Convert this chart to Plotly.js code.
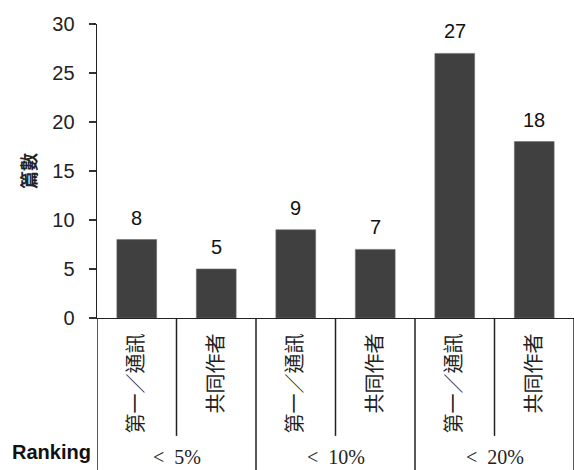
<!DOCTYPE html>
<html>
<head>
<meta charset="utf-8">
<script src="https://cdn.plot.ly/plotly-3.0.1.min.js"></script>
<style>
  html, body { margin: 0; padding: 0; background: #fff; }
  #chart { width: 574px; height: 470px; }
</style>
</head>
<body>
<div id="chart"></div>
<script>
// Paper counts by authorship role within each ranking band
const categories = ['第一／通訊', '共同作者', '第一／通訊', '共同作者', '第一／通訊', '共同作者'];
const groups = ['<\u00a0\u00a05%', '<\u00a0\u00a010%', '<\u00a0\u00a020%'];
const counts = [8, 5, 9, 7, 27, 18];
const yTicks = [0, 5, 10, 15, 20, 25, 30];

const pos = categories.map((_, i) => i);
const perGroup = categories.length / groups.length;

const barTrace = {
  type: 'bar',
  x: pos,
  y: counts,
  width: 0.5,
  marker: { color: '#404040', line: { color: '#6a6a6a', width: 0.6 } },
  hoverinfo: 'x+y',
  showlegend: false
};

// Value labels above each bar
const valueLabels = pos.map((x, i) => ({
  x: x, y: counts[i], xref: 'x', yref: 'y',
  text: String(counts[i]),
  showarrow: false, yanchor: 'bottom', yshift: 9,
  font: { family: 'Liberation Sans, Arial, sans-serif', size: 20, color: '#111' }
}));

// Ranking band labels under each pair of bars
const groupLabels = groups.map((g, k) => ({
  x: k * perGroup + (perGroup - 1) / 2, y: -0.474,
  xref: 'x', yref: 'paper',
  text: g, showarrow: false, yanchor: 'middle',
  font: { family: 'Liberation Serif, DejaVu Serif, serif', size: 20, color: '#222' }
}));

const rankingLabel = {
  x: -0.182, y: -0.456, xref: 'paper', yref: 'paper',
  xanchor: 'left', yanchor: 'middle', showarrow: false,
  text: '<b>Ranking</b>',
  font: { family: 'Liberation Sans, Arial, sans-serif', size: 20, color: '#111' }
};

// Separators below the axis: short between roles, long between bands
const shapes = [];
for (let b = 0; b <= categories.length; b++) {
  const xb = b - 0.5;
  const isBand = b % perGroup === 0;
  shapes.push({
    type: 'line', xref: 'x', yref: 'paper',
    x0: xb, x1: xb, y0: 0, y1: isBand ? -0.53 : -0.401,
    line: { color: '#222', width: 1.5 }
  });
}

const layout = {
  width: 574, height: 470,
  margin: { l: 97, r: 0, t: 24, b: 152 },
  paper_bgcolor: '#ffffff', plot_bgcolor: '#ffffff',
  bargap: 0.5,
  xaxis: {
    range: [-0.5, categories.length - 0.5],
    tickvals: pos, ticktext: categories,
    tickangle: -90,
    ticks: '', showgrid: false, zeroline: false,
    showline: true, linecolor: '#222', linewidth: 1.4,
    ticklabelstandoff: 6,
    tickfont: { family: 'Noto Sans CJK TC, sans-serif', size: 20, color: '#222' }
  },
  yaxis: {
    range: [0, 30],
    tickvals: yTicks,
    ticks: 'outside', ticklen: 7, tickwidth: 1.3, tickcolor: '#333',
    showgrid: false, zeroline: false,
    showline: true, linecolor: '#222', linewidth: 1.4,
    ticklabelstandoff: 10,
    tickfont: { family: 'Liberation Sans, Arial, sans-serif', size: 20, color: '#222' },
    title: {
      text: '<b>篇數</b>', standoff: 11,
      font: { family: 'Noto Sans CJK TC, sans-serif', size: 18, color: '#222' }
    }
  },
  shapes: shapes,
  annotations: valueLabels.concat(groupLabels, [rankingLabel])
};

Plotly.newPlot('chart', [barTrace], layout, { staticPlot: true, displayModeBar: false });
</script>
</body>
</html>
